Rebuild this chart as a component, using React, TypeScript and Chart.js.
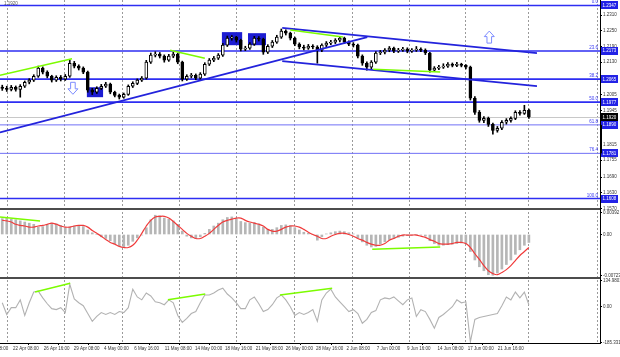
import React, { useEffect, useRef } from 'react';
import { Chart, registerables } from 'chart.js';

Chart.register(...registerables);

const FONT = '"Liberation Sans", Arial, sans-serif';

// ---- price (H4 EUR/USD style candles, compressed) ----
const firstOpen = 1.2035;
const closes = [
  1.2030, 1.2026, 1.2034, 1.2026, 1.2038, 1.2053, 1.2061, 1.2076, 1.2107, 1.2092,
  1.2076, 1.2061, 1.2072, 1.2065, 1.2076, 1.2126, 1.2115, 1.2107, 1.2092, 1.2023,
  1.2015, 1.2030, 1.2038, 1.2046, 1.2015, 1.2003, 1.1996, 1.2007, 1.2038, 1.2049,
  1.2061, 1.2069, 1.2130, 1.2157, 1.2161, 1.2153, 1.2138, 1.2153, 1.2161, 1.2130,
  1.2065, 1.2076, 1.2080, 1.2069, 1.2084, 1.2122, 1.2138, 1.2145, 1.2157, 1.2195,
  1.2222, 1.2226, 1.2214, 1.2180, 1.2184, 1.2199, 1.2222, 1.2218, 1.2168, 1.2191,
  1.2207, 1.2226, 1.2249, 1.2241, 1.2222, 1.2199, 1.2188, 1.2184, 1.2191, 1.2188,
  1.2176, 1.2195, 1.2203, 1.2207, 1.2214, 1.2222, 1.2207, 1.2199, 1.2195, 1.2153,
  1.2126, 1.2111, 1.2130, 1.2165, 1.2168, 1.2176, 1.2184, 1.2172, 1.2176, 1.2180,
  1.2172, 1.2176, 1.2180, 1.2176, 1.2165, 1.2099, 1.2107, 1.2111, 1.2115, 1.2122,
  1.2118, 1.2122, 1.2118, 1.2111, 1.1992, 1.1938, 1.1907, 1.1915, 1.1892, 1.1869,
  1.1877, 1.1900, 1.1907, 1.1915, 1.1938, 1.1934, 1.1946, 1.1920,
];
const highs = [
  1.2042, 1.2038, 1.2041, 1.2039, 1.2044, 1.2058, 1.2067, 1.2082, 1.2115, 1.2112,
  1.2097, 1.2080, 1.2078, 1.2079, 1.2083, 1.2138, 1.2133, 1.2120, 1.2112, 1.2096,
  1.2030, 1.2036, 1.2045, 1.2053, 1.2050, 1.2019, 1.2008, 1.2012, 1.2043, 1.2055,
  1.2066, 1.2075, 1.2137, 1.2165, 1.2170, 1.2167, 1.2158, 1.2160, 1.2168, 1.2165,
  1.2134, 1.2082, 1.2087, 1.2085, 1.2090, 1.2128, 1.2144, 1.2152, 1.2163, 1.2202,
  1.2230, 1.2232, 1.2229, 1.2218, 1.2191, 1.2205, 1.2229, 1.2228, 1.2222, 1.2197,
  1.2213, 1.2233, 1.2257, 1.2254, 1.2245, 1.2226, 1.2204, 1.2195, 1.2198, 1.2197,
  1.2193, 1.2200, 1.2209, 1.2214, 1.2220, 1.2229, 1.2226, 1.2212, 1.2205, 1.2199,
  1.2158, 1.2131, 1.2136, 1.2171, 1.2175, 1.2182, 1.2190, 1.2188, 1.2183, 1.2187,
  1.2185, 1.2182, 1.2190, 1.2185, 1.2181, 1.2168, 1.2113, 1.2118, 1.2124, 1.2128,
  1.2127, 1.2129, 1.2126, 1.2121, 1.2115, 1.1998, 1.1945, 1.1922, 1.1920, 1.1897,
  1.1884, 1.1906, 1.1914, 1.1921, 1.1944, 1.1945, 1.1965, 1.1950,
];
const lows = [
  1.2022, 1.2018, 1.2020, 1.2019, 1.1996, 1.2033, 1.2047, 1.2056, 1.2072, 1.2085,
  1.2070, 1.2054, 1.2056, 1.2058, 1.2060, 1.2072, 1.2108, 1.2100, 1.2086, 1.2015,
  1.2006, 1.2010, 1.2025, 1.2033, 1.2009, 1.1997, 1.1989, 1.1992, 1.2003, 1.2033,
  1.2044, 1.2056, 1.2065, 1.2125, 1.2150, 1.2146, 1.2130, 1.2133, 1.2147, 1.2124,
  1.2058, 1.2060, 1.2070, 1.2063, 1.2064, 1.2079, 1.2117, 1.2132, 1.2140, 1.2152,
  1.2190, 1.2214, 1.2207, 1.2173, 1.2174, 1.2179, 1.2194, 1.2211, 1.2160, 1.2163,
  1.2186, 1.2202, 1.2221, 1.2234, 1.2215, 1.2193, 1.2181, 1.2177, 1.2179, 1.2181,
  1.2126, 1.2170, 1.2189, 1.2197, 1.2201, 1.2208, 1.2201, 1.2193, 1.2188, 1.2146,
  1.2118, 1.2099, 1.2105, 1.2125, 1.2159, 1.2162, 1.2170, 1.2166, 1.2167, 1.2171,
  1.2166, 1.2167, 1.2171, 1.2170, 1.2159, 1.2092, 1.2094, 1.2101, 1.2106, 1.2110,
  1.2112, 1.2113, 1.2112, 1.2104, 1.1985, 1.1930, 1.1900, 1.1898, 1.1884, 1.1854,
  1.1862, 1.1872, 1.1893, 1.1900, 1.1910, 1.1927, 1.1930, 1.1915,
];

// ---- MACD ----
const macdHist = [
  0.0028, 0.0029, 0.0027, 0.0026, 0.0024, 0.0022, 0.0020, 0.0018, 0.0013, 0.0014,
  0.0018, 0.0020, 0.0019, 0.0016, 0.0012, 0.0013, 0.0015, 0.0016, 0.0014, 0.0008,
  0.0003, 0.0000, -0.0004, -0.0007, -0.0011, -0.0016, -0.0020, -0.0023, -0.0019, -0.0012,
  -0.0006, -0.0001, 0.0012, 0.0026, 0.0034, 0.0033, 0.0029, 0.0027, 0.0024, 0.0018,
  0.0006, -0.0003, -0.0006, -0.0007, -0.0004, 0.0002, 0.0009, 0.0015, 0.0020, 0.0026,
  0.0030, 0.0031, 0.0028, 0.0023, 0.0021, 0.0020, 0.0021, 0.0019, 0.0013, 0.0009,
  0.0009, 0.0012, 0.0016, 0.0017, 0.0016, 0.0012, 0.0008, 0.0004, 0.0002, 0.0000,
  -0.0010, -0.0004, 0.0001, 0.0003, 0.0005, 0.0006, 0.0005, 0.0003, 0.0001, -0.0006,
  -0.0013, -0.0019, -0.0022, -0.0021, -0.0017, -0.0013, -0.0009, -0.0007, -0.0005, -0.0003,
  -0.0002, -0.0001, 0.0000, -0.0001, -0.0003, -0.0011, -0.0016, -0.0019, -0.0019, -0.0018,
  -0.0017, -0.0016, -0.0015, -0.0016, -0.0030, -0.0045, -0.0057, -0.0064, -0.0071, -0.0072,
  -0.0068, -0.0061, -0.0053, -0.0045, -0.0035, -0.0027, -0.0019, -0.0014,
];
const macdSignal = [
  0.0025, 0.0024, 0.0022, 0.0018, 0.0016, 0.0015, 0.0013, 0.0013, 0.0015, 0.0016,
  0.0018, 0.0020, 0.0018, 0.0015, 0.0013, 0.0013, 0.0015, 0.0016, 0.0016, 0.0013,
  0.0007, 0.0002, -0.0003, -0.0009, -0.0014, -0.0017, -0.0021, -0.0023, -0.0023, -0.0019,
  -0.0010, 0.0002, 0.0015, 0.0025, 0.0031, 0.0032, 0.0032, 0.0029, 0.0023, 0.0016,
  0.0009, 0.0002, -0.0003, -0.0007, -0.0007, -0.0003, 0.0002, 0.0009, 0.0016, 0.0022,
  0.0025, 0.0027, 0.0029, 0.0029, 0.0025, 0.0022, 0.0020, 0.0018, 0.0015, 0.0009,
  0.0006, 0.0006, 0.0009, 0.0013, 0.0015, 0.0015, 0.0013, 0.0009, 0.0004, 0.0000,
  -0.0003, -0.0007, -0.0007, -0.0003, 0.0000, 0.0002, 0.0002, 0.0000, -0.0003, -0.0007,
  -0.0010, -0.0014, -0.0017, -0.0019, -0.0019, -0.0016, -0.0010, -0.0007, -0.0003, -0.0001,
  -0.0001, -0.0001, -0.0001, -0.0003, -0.0005, -0.0009, -0.0012, -0.0016, -0.0017, -0.0017,
  -0.0016, -0.0014, -0.0014, -0.0016, -0.0023, -0.0034, -0.0044, -0.0055, -0.0064, -0.0069,
  -0.0071, -0.0067, -0.0062, -0.0055, -0.0046, -0.0037, -0.0030, -0.0023,
];

// ---- CCI ----
const cci = [
  20, -40, -5, -5, 35, -45, 20, 75, 80, 45,
  15, -10, -15, -5, -30, 115, 40, 20, 5, -35,
  -75, -50, -30, -40, -30, -40, -25, -30, -5, 90,
  50, 35, 70, 55, 25, 20, 10, 35, 20, -45,
  -80, -60, -35, -25, 20, 60, 60, 70, 85, 95,
  65, 45, 20, -10, -10, 35, 50, 15, -25, -15,
  10, 45, 60, 35, 0, -45, -30, -40, -30, -15,
  -75, 35, 70, 90, 50, 25, 0, -25, -15, -35,
  -85, -65, -30, -20, 35, 45, 40, 50, 30, 10,
  35, 45, -50, -15, -25, -65, -110, -55, -40, -20,
  0, 35, 20, 25, -180, -65, -55, -50, -45, -40,
  -35, 5, 50, 35, 75, 45, 75, 10,
];

// ---- axes / labels ----
const priceTicks = [1.2310, 1.2250, 1.2190, 1.2130, 1.2070, 1.2005, 1.1945, 1.1880, 1.1815, 1.1755, 1.1690, 1.1630, 1.1570];
const macdTicks = [0.00392, 0, -0.00723];
const cciTicks = [134.9801, 0, -185.331];
const timeLabels = [
  '20 Apr 08:00', '22 Apr 08:00', '26 Apr 16:00', '29 Apr 08:00', '4 May 00:00', '6 May 16:00',
  '11 May 08:00', '14 May 00:00', '18 May 16:00', '21 May 08:00', '26 May 00:00', '28 May 16:00',
  '2 Jun 08:00', '7 Jun 00:00', '9 Jun 16:00', '14 Jun 08:00', '17 Jun 00:00', '21 Jun 16:00',
];
const timeLabelPos = [-4.4, 2.4, 9.2, 15.9, 22.6, 29.3, 36.1, 42.8, 49.5, 56.3, 63.0, 69.7, 76.5, 83.2, 89.9, 96.7, 103.4, 110.1];
const gridPos = [7.5, 20.2, 33.1, 45.7, 58.6, 71.3, 84.2, 96.6, 109.3, 124.6];

// ---- Fibonacci ----
const fibLevels = ['0.0', '23.6', '38.2', '50.0', '61.8', '76.4', '100.0'];
const fibPrices = [1.2347, 1.2173, 1.2065, 1.1977, 1.1890, 1.1781, 1.1608];

// ---- drawings (bar index, value) ----
const blueTrendLines = [
  [-0.5, 1.1861, 81.1, 1.2226],
  [62.2, 1.2261, 118.8, 1.2165],
  [62.2, 1.2134, 118.8, 1.2038],
];
const greenPriceLines = [
  [-0.5, 1.2080, 15.5, 1.2143],
  [37.3, 1.2176, 45.0, 1.2145],
  [64.0, 1.2253, 75.7, 1.2226],
  [82.4, 1.2103, 97.3, 1.2092],
];
const greenMacdLines = [
  [-0.5, 0.0031, 8.4, 0.0024],
  [82.2, -0.0026, 97.3, -0.0022],
];
const greenCciLines = [
  [7.3, 75, 15.1, 120],
  [36.8, 35, 45.1, 65],
  [61.7, 60, 73.3, 95],
];
const zoneBoxes = [
  [18.8, 22.4, 1.2034, 1.1996],
  [48.8, 53.3, 1.2245, 1.2195],
  [54.6, 58.6, 1.2241, 1.2195],
];
const arrowMarks = [
  { x: 15.7, y: 1.2030, dir: -1 },
  { x: 108.2, y: 1.2226, dir: 1 },
];

const X_MIN = -0.5;
const X_MAX = 132.8;

const idx = closes.map((_, i) => i);
const opens = closes.map((c, i) => (i === 0 ? firstOpen : closes[i - 1]));

const seg = (s: number[]) => [{ x: s[0], y: s[1] }, { x: s[2], y: s[3] }];

function drawArrow(ctx: CanvasRenderingContext2D, x: number, y: number, dir: number) {
  const h = 12, hw = 5, sw = 2.3, hh = 5.5;
  const tip = y - dir * h / 2;
  const base = y + dir * h / 2;
  const neck = tip + dir * hh;
  ctx.beginPath();
  ctx.moveTo(x, tip);
  ctx.lineTo(x + hw, neck);
  ctx.lineTo(x + sw, neck);
  ctx.lineTo(x + sw, base);
  ctx.lineTo(x - sw, base);
  ctx.lineTo(x - sw, neck);
  ctx.lineTo(x - hw, neck);
  ctx.closePath();
  ctx.fillStyle = '#ffffff';
  ctx.fill();
  ctx.strokeStyle = '#7d8cff';
  ctx.lineWidth = 1;
  ctx.stroke();
}

const overlayPlugin = {
  id: 'mt4Overlay',
  beforeDatasetsDraw(chart: any) {
    const { ctx, chartArea: a, scales } = chart;
    const xs = scales.x, ys = scales.y;
    ctx.save();
    ctx.beginPath();
    ctx.rect(a.left, ys.top, a.right - a.left, ys.bottom - ys.top);
    ctx.clip();
    const by = Math.round(ys.getPixelForValue(closes[closes.length - 1])) + 0.5;
    ctx.strokeStyle = '#c8c8c8';
    ctx.lineWidth = 1;
    ctx.beginPath();
    ctx.moveTo(a.left, by);
    ctx.lineTo(a.right, by);
    ctx.stroke();
    ctx.fillStyle = '#1c1cd2';
    for (const b of zoneBoxes) {
      const x0 = xs.getPixelForValue(b[0]), x1 = xs.getPixelForValue(b[1]);
      const y0 = ys.getPixelForValue(b[2]), y1 = ys.getPixelForValue(b[3]);
      ctx.fillRect(x0, y0, x1 - x0, y1 - y0);
    }
    fibPrices.forEach((p, i) => {
      const y = ys.getPixelForValue(p);
      const thin = fibLevels[i] === '61.8' || fibLevels[i] === '76.4';
      ctx.strokeStyle = thin ? '#7070f6' : '#2e2ef2';
      ctx.lineWidth = thin ? 1 : 1.6;
      ctx.beginPath();
      ctx.moveTo(a.left, y);
      ctx.lineTo(a.right, y);
      ctx.stroke();
    });
    ctx.restore();
  },
  afterDatasetsDraw(chart: any) {
    const { ctx, scales } = chart;
    ctx.save();
    for (const m of arrowMarks) {
      drawArrow(ctx, scales.x.getPixelForValue(m.x), scales.y.getPixelForValue(m.y), m.dir);
    }
    ctx.restore();
  },
  afterDraw(chart: any) {
    const { ctx, chartArea: a, scales } = chart;
    const ys = scales.y;
    ctx.save();
    ctx.fillStyle = '#4c4c4c';
    ctx.fillRect(0, Math.round(ys.bottom) - 1, a.right, 2);
    ctx.fillRect(0, Math.round(scales.macd.bottom) - 1, a.right, 2);
    ctx.font = `4.5px ${FONT}`;
    fibPrices.forEach((p, i) => {
      const y = ys.getPixelForValue(p);
      ctx.fillStyle = '#3a3af4';
      ctx.textAlign = 'right';
      ctx.textBaseline = 'bottom';
      ctx.fillText(fibLevels[i], a.right - 2, y - 1);
      ctx.fillStyle = '#2222e6';
      ctx.fillRect(a.right + 1, Math.round(y) - 4, 17, 8);
      ctx.fillStyle = '#ffffff';
      ctx.textAlign = 'left';
      ctx.textBaseline = 'middle';
      ctx.fillText(p.toFixed(4), a.right + 2.5, y + 0.3);
    });
    const last = closes[closes.length - 1];
    const cy = ys.getPixelForValue(last);
    ctx.fillStyle = '#000000';
    ctx.fillRect(a.right + 1, Math.round(cy) - 4, 17, 8);
    ctx.fillStyle = '#ffffff';
    ctx.fillText(last.toFixed(4), a.right + 2.5, cy + 0.3);
    ctx.fillStyle = '#000000';
    ctx.fillRect(a.right, ys.getPixelForValue(fibPrices[4]), 2, ys.getPixelForValue(fibPrices[5]) - ys.getPixelForValue(fibPrices[4]));
    ctx.fillStyle = '#555555';
    ctx.textAlign = 'left';
    ctx.textBaseline = 'top';
    ctx.fillText('1.1920', 4, 1.5);
    ctx.restore();
  },
};

const tickFont = { size: 4.5, family: FONT };

const zeroPad = (s: any) => {
  s.paddingLeft = 0;
  s.paddingRight = 0;
  s.paddingTop = 0;
  s.paddingBottom = 0;
};

function panelAxis(ticks: number[], min: number, max: number, weight: number, fmt: (v: number) => string) {
  return {
    type: 'linear',
    position: 'right',
    stack: 'panes',
    stackWeight: weight,
    min,
    max,
    afterBuildTicks: (s: any) => { s.ticks = ticks.map((v) => ({ value: v })); },
    afterFit: (s: any) => { s.width = 20; zeroPad(s); },
    ticks: { autoSkip: false, padding: 1, font: tickFont, color: '#333333', callback: (v: number) => fmt(v) },
    grid: { drawOnChartArea: false, drawTicks: true, tickLength: 2, color: '#000000' },
    border: { display: true, color: '#000000' },
  };
}

export default function App() {
  const ref = useRef<HTMLCanvasElement | null>(null);

  useEffect(() => {
    if (!ref.current) return;
    const lineDs = (data: any[], axis: string, color: string, width: number, order: number, tension = 0) => ({
      type: 'line',
      data,
      yAxisID: axis,
      borderColor: color,
      borderWidth: width,
      pointRadius: 0,
      tension,
      fill: false,
      order,
    });
    const datasets: any[] = [
      ...greenPriceLines.map((s) => lineDs(seg(s), 'y', '#7cfc00', 1.5, 0)),
      ...blueTrendLines.map((s) => lineDs(seg(s), 'y', '#2323dc', 1.8, 1)),
      ...greenMacdLines.map((s) => lineDs(seg(s), 'macd', '#7cfc00', 1.5, 0)),
      ...greenCciLines.map((s) => lineDs(seg(s), 'cci', '#7cfc00', 1.5, 0)),
      lineDs(idx.map((i) => ({ x: i, y: macdSignal[i] })), 'macd', '#f03a3a', 1.2, 3, 0.4),
      lineDs(idx.map((i) => ({ x: i, y: cci[i] })), 'cci', '#b2b2b2', 1.1, 3),
      {
        type: 'bar',
        data: idx.map((i) => ({ x: i, y: [opens[i], closes[i]] })),
        yAxisID: 'y',
        barThickness: 3,
        grouped: false,
        minBarLength: 1,
        backgroundColor: idx.map((i) => (closes[i] >= opens[i] ? '#ffffff' : '#000000')),
        borderColor: '#000000',
        borderWidth: 1,
        borderSkipped: false,
        order: 8,
      },
      {
        type: 'bar',
        data: idx.map((i) => ({ x: i, y: [lows[i], highs[i]] })),
        yAxisID: 'y',
        barThickness: 1,
        grouped: false,
        backgroundColor: '#000000',
        borderWidth: 0,
        order: 9,
      },
      {
        type: 'bar',
        data: idx.map((i) => ({ x: i, y: macdHist[i] })),
        yAxisID: 'macd',
        barThickness: 2,
        grouped: false,
        backgroundColor: '#b6b6b6',
        borderWidth: 0,
        order: 9,
      },
    ];

    const chart = new Chart(ref.current, {
      type: 'bar',
      data: { datasets },
      options: {
        responsive: false,
        animation: false,
        devicePixelRatio: 1,
        events: [],
        layout: { padding: 0 },
        plugins: { legend: { display: false }, tooltip: { enabled: false } },
        scales: {
          x: {
            type: 'linear',
            position: 'bottom',
            min: X_MIN,
            max: X_MAX,
            offset: false,
            afterBuildTicks: (s: any) => { s.ticks = timeLabelPos.map((v) => ({ value: v })); },
            afterFit: (s: any) => { s.height = 14; zeroPad(s); },
            ticks: {
              autoSkip: false,
              maxRotation: 0,
              minRotation: 0,
              align: 'start',
              padding: 1,
              font: tickFont,
              color: '#333333',
              callback: (_v: any, i: number) => timeLabels[i],
            },
            grid: { drawOnChartArea: false, drawTicks: true, tickLength: 2, color: '#000000' },
            border: { display: true, color: '#000000' },
          },
          x2: {
            type: 'linear',
            position: 'top',
            min: X_MIN,
            max: X_MAX,
            offset: false,
            afterBuildTicks: (s: any) => { s.ticks = gridPos.map((v) => ({ value: v })); },
            afterFit: (s: any) => { s.height = 0; zeroPad(s); },
            ticks: { display: false },
            grid: { color: '#9a9a9a', lineWidth: 1, drawTicks: false },
            border: { display: false, dash: [2, 2] },
          },
          y: panelAxis(priceTicks, 1.1568, 1.2368, 209, (v) => v.toFixed(4)),
          macd: panelAxis(macdTicks, -0.00768, 0.0045, 69, (v) => (v === 0 ? '0.00' : String(v))),
          cci: panelAxis(cciTicks, -186, 147, 65, (v) => (v === 0 ? '0.00' : String(v))),
        },
      } as any,
      plugins: [overlayPlugin as any],
    } as any);

    return () => chart.destroy();
  }, []);

  return (
    <div style={{ position: 'fixed', left: 0, top: 0, width: 620, height: 357, background: '#ffffff' }}>
      <canvas ref={ref} width={620} height={357} style={{ display: 'block', width: 620, height: 357 }} />
    </div>
  );
}
